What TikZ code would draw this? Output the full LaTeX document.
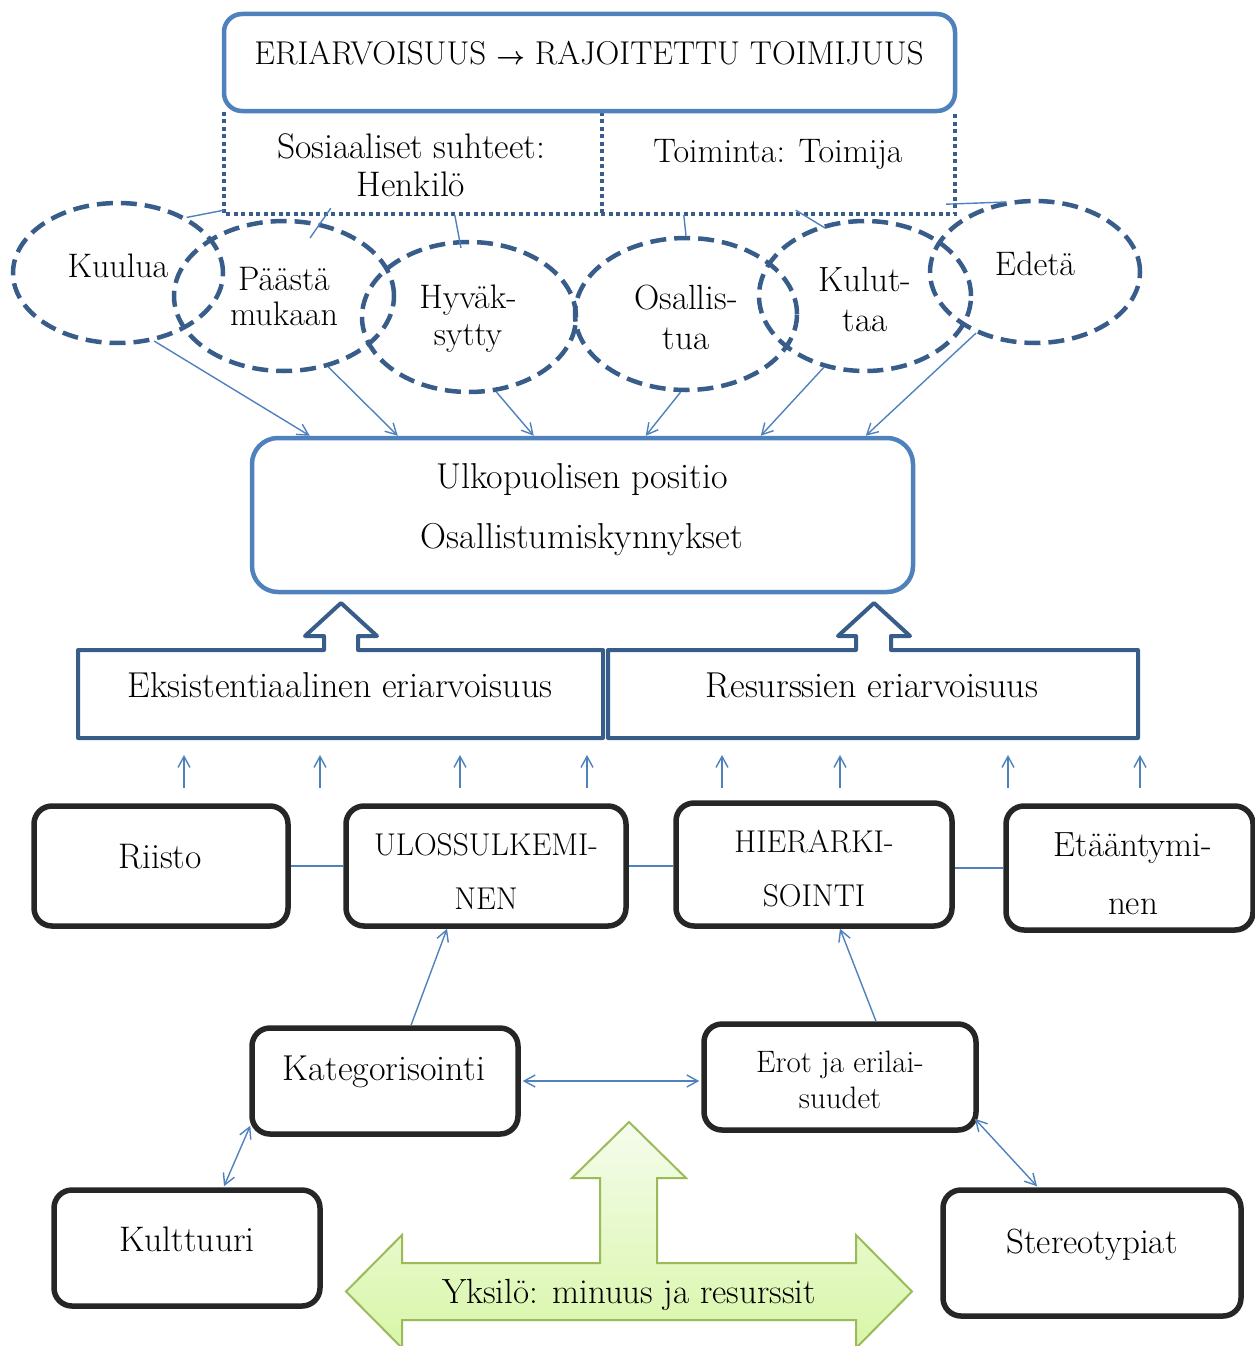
\documentclass[tikz,border=0pt]{standalone}
\usepackage{fontspec}
\usepackage{bm}
\usetikzlibrary{arrows.meta,shapes.geometric,calc}
\definecolor{lblue}{HTML}{4F81BD}
\definecolor{dblue}{HTML}{385D8A}
\definecolor{gline}{HTML}{9BBB59}
\definecolor{gtop}{HTML}{F5FCEC}
\definecolor{gbot}{HTML}{D8F6A8}
\definecolor{kline}{HTML}{262626}
\begin{document}
\begin{tikzpicture}[x=1pt,y=-1pt,
  txt/.style={font=\fontsize{35.5}{40}\selectfont, align=center, inner sep=0pt},
  ell/.style={ellipse, draw=dblue, line width=4.5pt, dash pattern=on 16pt off 8pt, inner sep=0pt},
  kbox/.style={draw=kline, line width=5.5pt, rounded corners=18pt, inner sep=0pt, fill=white},
  bbox/.style={draw=lblue, line width=4.5pt, rounded corners=22pt, inner sep=0pt, fill=white},
  dotb/.style={draw=dblue, line width=4.5pt, dash pattern=on 4pt off 3.5pt},
  conn/.style={draw=lblue, line width=1.4pt, -{Straight Barb[length=11pt,width=12pt]}},
  bconn/.style={draw=lblue, line width=1.4pt, {Straight Barb[length=11pt,width=12pt]}-{Straight Barb[length=11pt,width=12pt]}},
  link/.style={draw=lblue, line width=1.4pt},
  barrow/.style={draw=dblue, line width=4pt, line join=round, fill=white},
]
\useasboundingbox (0,0) rectangle (1255,1346);

% ---------- top box and dotted boxes ----------
\node[draw=none, minimum width=378pt, minimum height=102pt, inner sep=0pt] (sosbox) at (413,163) {};
\node[draw=none, minimum width=353pt, minimum height=102pt, inner sep=0pt] (toimbox) at (778.5,163) {};
\draw[dotb] (sosbox.north west) -- (sosbox.south west) -- (toimbox.south east) -- (toimbox.north east);
\draw[dotb] (sosbox.north east) -- (sosbox.south east);
\node[bbox, rounded corners=18pt, minimum width=731pt, minimum height=97pt] (top) at (589.5,62.5) {};
\node[txt, font=\fontsize{33}{38}\selectfont] (toptxt) at (589,53) {ERIARVOISUUS $\bm{\rightarrow}$ RAJOITETTU TOIMIJUUS};
\node[txt, font=\fontsize{35.5}{38}\selectfont] (sos) at (411,165) {Sosiaaliset suhteet:\\Henkilö};
\node[txt, font=\fontsize{34}{38}\selectfont] (toim) at (778,154) {Toiminta: Toimija};

% ---------- ellipses ----------
\node[ell, minimum width=210pt, minimum height=140pt] (kuulua) at (118,273) {};
\node[ell, minimum width=220pt, minimum height=150pt] (paasta) at (284,296) {};
\node[ell, minimum width=214pt, minimum height=150pt] (hyvak) at (469,317) {};
\node[ell, minimum width=222pt, minimum height=152pt] (osallis) at (686,314) {};
\node[ell, minimum width=212pt, minimum height=150pt] (kulut) at (865,296) {};
\node[ell, minimum width=210pt, minimum height=142pt] (edeta) at (1035,272) {};

\node[txt, font=\fontsize{34}{36}\selectfont] at (118,266) {Kuulua};
\node[txt, font=\fontsize{34}{35}\selectfont] at (284,297) {Päästä\\mukaan};
\node[txt, font=\fontsize{34}{37}\selectfont] at (468,319) {Hyväk-\\sytty};
\node[txt, font=\fontsize{35}{40}\selectfont] at (686,317) {Osallis-\\tua};
\node[txt, font=\fontsize{35}{40}\selectfont] at (865,299) {Kulut-\\taa};
\node[txt, font=\fontsize{34}{36}\selectfont] at (1035,264) {Edetä};

% lines from dotted box to ellipses
\draw[link] (kuulua.39) -- ($(sosbox.south west)+(0,-4)$);
\draw[link] ($(sosbox.south west)+(107,-6)$) -- ($(paasta.center)+(26,-58)$);
\draw[link] ($(sosbox.south west)+(231,1)$) -- ($(hyvak.center)+(-8,-69)$);
\draw[link] ($(toimbox.south west)+(82,1)$) -- (osallis.north);
\draw[link] ($(toimbox.south west)+(194,-4)$) -- ($(kulut.center)+(-40,-68)$);
\draw[link] ($(toimbox.south east)+(-9,-10)$) -- ($(edeta.center)+(-29,-70)$);

% ---------- outsider box ----------
\node[bbox, rounded corners=26pt, minimum width=661pt, minimum height=154pt] (ulk) at (582.5,515) {};
\node[txt, font=\fontsize{36}{60}\selectfont] at (582,510) {Ulkopuolisen positio\\Osallistumiskynnykset};

\draw[conn] (kuulua.-62) -- ($(ulk.north west)+(60,0)$);
\draw[conn] (paasta.-58) -- ($(ulk.north west)+(148,0)$);
\draw[conn] (hyvak.-70) -- ($(ulk.north west)+(284,0)$);
\draw[conn] (osallis.-94) -- ($(ulk.north west)+(396,0)$);
\draw[conn] (kulut.-120) -- ($(ulk.north west)+(511,0)$);
\draw[conn] (edeta.-134) -- ($(ulk.north west)+(616,0)$);

% ---------- block-arrow boxes ----------
\draw[barrow] (78,650) -- (324,650) -- (324,636) -- (305,636) -- (341,603) -- (377,636) -- (358,636) -- (358,650) -- (603,650) -- (603,738) -- (78,738) -- cycle;
\draw[barrow] (608,650) -- (856,650) -- (856,636) -- (838,636) -- (874,603) -- (910,636) -- (891,636) -- (891,650) -- (1138,650) -- (1138,738) -- (608,738) -- cycle;
\node[txt, font=\fontsize{36}{40}\selectfont] (eks) at (340,685) {Eksistentiaalinen eriarvoisuus};
\node[txt, font=\fontsize{36}{40}\selectfont] (res) at (872,685) {Resurssien eriarvoisuus};

% small up arrows
\foreach \xx [count=\i] in {184,320,460,587,722,840,1008,1140} {
  \coordinate (ua\i) at (\xx,788);
  \coordinate (ub\i) at (\xx,755);
  \draw[conn] (ua\i) -- (ub\i);
}

% ---------- black boxes ----------
\node[kbox, minimum width=254pt, minimum height=120pt] (riisto) at (161,866) {};
\node[kbox, minimum width=280pt, minimum height=120pt] (ulos) at (486,866) {};
\node[kbox, minimum width=276pt, minimum height=123pt] (hier) at (814,864.5) {};
\node[kbox, minimum width=247pt, minimum height=124pt] (etaa) at (1129.5,868) {};
\node[kbox, minimum width=266pt, minimum height=106pt] (kat) at (385,1081) {};
\node[kbox, minimum width=272pt, minimum height=106pt] (erot) at (840,1077) {};
\node[kbox, minimum width=266pt, minimum height=116pt] (kult) at (187,1248) {};
\node[kbox, minimum width=298pt, minimum height=126pt] (stereo) at (1092,1253) {};

\node[txt] at (160,857) {Riisto};
\node[txt, font=\fontsize{31.5}{54}\selectfont] at (486,871) {ULOSSULKEMI-\\NEN};
\node[txt, font=\fontsize{31.5}{54}\selectfont] at (814,869) {HIERARKI-\\SOINTI};
\node[txt, font=\fontsize{35}{58}\selectfont] at (1133,874) {Etääntymi-\\nen};
\node[txt, font=\fontsize{36}{40}\selectfont] at (384,1072) {Kategorisointi};
\node[txt, font=\fontsize{31}{36}\selectfont] at (840,1080) {Erot ja erilai-\\suudet};
\node[txt] at (187,1239) {Kulttuuri};
\node[txt, font=\fontsize{35}{40}\selectfont] at (1092,1245) {Stereotypiat};

\draw[link] (riisto.east) -- (ulos.west);
\draw[link] (ulos.east) -- (ulos.east -| hier.west);
\draw[link] (etaa.west -| hier.east) -- (etaa.west);

\draw[conn] ($(kat.north)+(26,0)$) -- ($(ulos.south)+(-39,0)$);
\draw[conn] ($(erot.north)+(36,0)$) -- ($(hier.south)+(26,0)$);
\draw[bconn] ($(kat.east)+(2,0)$) -- ($(kat.east -| erot.west)+(-2,0)$);
\draw[bconn] ($(kat.south west)+(1,-11)$) -- ($(kult.north)+(37,-1)$);
\draw[bconn] ($(erot.south east)+(-4,-14)$) -- ($(stereo.north)+(-55,-1)$);

% ---------- green three-way arrow ----------
\path[draw=gline, line width=2pt, line join=miter, top color=gtop, bottom color=gbot]
 (629,1122) -- (686,1178) -- (657,1178) -- (657,1263) -- (856,1263) -- (856,1235) -- (912,1291.5) -- (856,1348) -- (856,1320) -- (402,1320) -- (402,1348) -- (346,1291.5) -- (402,1235) -- (402,1263) -- (600,1263) -- (600,1178) -- (572,1178) -- cycle;
\node[txt, font=\fontsize{35}{40}\selectfont] (yks) at (629,1295) {Yksilö: minuus ja resurssit};
\end{tikzpicture}
\end{document}
